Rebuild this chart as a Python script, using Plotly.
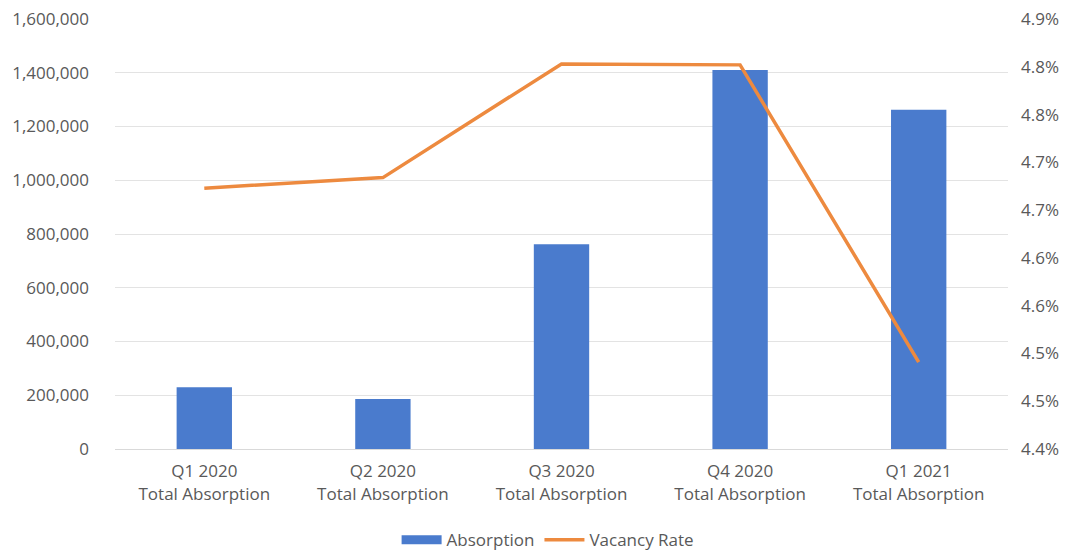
import plotly.graph_objects as go

categories = ["Q1 2020<br>Total Absorption", "Q2 2020<br>Total Absorption",
              "Q3 2020<br>Total Absorption", "Q4 2020<br>Total Absorption",
              "Q1 2021<br>Total Absorption"]
absorption = [230000, 186000, 762000, 1410000, 1262000]
vacancy_rate = [4.673, 4.684, 4.803, 4.802, 4.491]

left_ticks = [0, 200000, 400000, 600000, 800000, 1000000, 1200000, 1400000, 1600000]
right_tickvals = [4.40, 4.45, 4.50, 4.55, 4.60, 4.65, 4.70, 4.75, 4.80, 4.85]
right_ticktext = ["4.4%", "4.5%", "4.5%", "4.6%", "4.6%", "4.7%", "4.7%", "4.8%", "4.8%", "4.9%"]

font_color = "#595959"
font_family = "Open Sans, Lato, sans-serif"
bar_color = "#4A7BCD"
line_color = "#ED8A3F"
fs = 17

fig = go.Figure()
fig.add_trace(go.Bar(x=categories, y=absorption, name="Absorption", showlegend=False,
                     marker=dict(color=bar_color, line=dict(width=0)), width=0.31))
# legend entry for the bars (wide rectangle swatch)
fig.add_trace(go.Scatter(x=[None], y=[None], name="Absorption", mode="lines",
                         line=dict(color=bar_color, width=9), showlegend=True))
fig.add_trace(go.Scatter(x=categories, y=vacancy_rate, name="Vacancy Rate", yaxis="y2",
                         mode="lines", line=dict(color=line_color, width=3.5)))

fig.update_layout(
    width=1072, height=550,
    margin=dict(l=115, r=64, t=19, b=101, autoexpand=False),
    paper_bgcolor="white", plot_bgcolor="white",
    font=dict(family=font_family, size=fs, color=font_color),
    showlegend=True,
    legend=dict(orientation="h", x=0.485, xanchor="center", y=-0.212, yanchor="middle",
                font=dict(size=fs, color=font_color), itemwidth=40, tracegroupgap=0),
    xaxis=dict(showgrid=False, showline=True, linecolor="#d9d9d9", linewidth=1,
               ticks="", automargin=False, ticklabelstandoff=7,
               tickfont=dict(size=fs, color=font_color)),
    yaxis=dict(range=[0, 1600000], tickvals=left_ticks, tickformat=",",
               showgrid=True, gridcolor="#e3e3e3", gridwidth=1, zeroline=False,
               showline=False, ticks="", automargin=False, ticklabelstandoff=25,
               tickfont=dict(size=fs, color=font_color)),
    yaxis2=dict(range=[4.40, 4.85], overlaying="y", side="right",
                tickvals=right_tickvals, ticktext=right_ticktext,
                showgrid=False, zeroline=False, showline=False, ticks="",
                automargin=False, ticklabelstandoff=12,
                tickfont=dict(size=fs, color=font_color)),
    bargap=0.69,
)

fig.write_html("out.html")
